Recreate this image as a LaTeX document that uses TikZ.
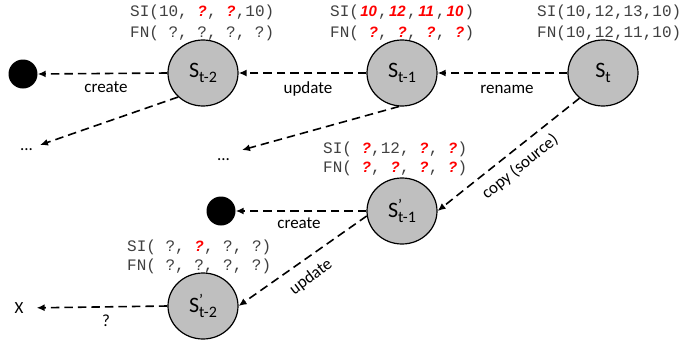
\documentclass[tikz,border=0pt]{standalone}
\usepackage{fontspec}
\setmainfont{Carlito}
\newfontfamily\monof{Liberation Mono}
\newfontfamily\redfam{Liberation Sans}
\usetikzlibrary{arrows.meta,shapes.geometric}
\definecolor{nodegray}{RGB}{191,191,191}
\definecolor{txtgray}{RGB}{64,64,64}
\newcommand\redstyle{\redfam\bfseries\itshape\fontsize{15}{15}\selectfont\color{red}}
\newcommand\redq[1]{\makebox[9.6pt]{\redstyle #1}}
\newcommand\redn[1]{\makebox[19.2pt]{\redstyle #1}}
\newcommand\subs[1]{\raisebox{-5pt}{\fontsize{16}{16}\selectfont #1}}
\newcommand\primesub[1]{\rlap{\raisebox{7pt}{\fontsize{16}{16}\selectfont ’}}\subs{#1}}
\begin{document}
\begin{tikzpicture}[x=1pt,y=-1pt,
  state/.style={ellipse, draw, line width=1.2pt, fill=nodegray, minimum width=70pt, minimum height=66pt, inner sep=0pt, font=\fontsize{22}{22}\selectfont},
  dotnode/.style={circle, fill=black, minimum size=29pt, inner sep=0pt},
  mono/.style={anchor=west, inner sep=0pt, font=\monof\fontsize{16}{16}\selectfont, text=txtgray},
  lbl/.style={inner sep=0pt, font=\fontsize{17}{17}\selectfont},
  conn/.style={dash pattern=on 8.5pt off 5pt, line width=1.6pt, -{Latex[length=8pt,width=7pt]}}]
\useasboundingbox (0,0) rectangle (681,341);

% states
\node[state] (St2) at (203,73) {S\subs{t-2}};
\node[state] (St1) at (402,73) {S\subs{t-1}};
\node[state] (St)  at (603,73) {S\subs{t}};
\node[state] (Sp1) at (402,211) {S\primesub{t-1}};
\node[state] (Sp2) at (203,306) {S\primesub{t-2}};

% end points
\node[dotnode] (dot1) at (23,74) {};
\node[dotnode] (dot2) at (221,211) {};
\node[lbl, anchor=base] (dots1) at (26.5,150) {...};
\node[lbl, anchor=base] (dots2) at (223.5,160) {...};
\node[lbl] (X) at (19,308) {X};
\coordinate (e1) at (40,145);
\coordinate (e2) at (242,150);

% SI / FN texts
\node[mono] (si1) at (130,12.5) {SI(10, \redq{?}, \redq{?},10)};
\node[mono] (fn1) at (130,33) {FN( ?, ?, ?, ?)};
\node[mono] (si2) at (330,12.5) {SI(\redn{10},\redn{12},\redn{11},\redn{10})};
\node[mono] (fn2) at (330,33) {FN( \redq{?}, \redq{?}, \redq{?}, \redq{?})};
\node[mono] (si3) at (537,12.5) {SI(10,12,13,10)};
\node[mono] (fn3) at (537,33) {FN(10,12,11,10)};
\node[mono] (si4) at (323,149) {SI( \redq{?},12, \redq{?}, \redq{?})};
\node[mono] (fn4) at (323,168) {FN( \redq{?}, \redq{?}, \redq{?}, \redq{?})};
\node[mono] (si5) at (127,247) {SI( ?, \redq{?}, ?, ?)};
\node[mono] (fn5) at (127,266) {FN( ?, ?, ?, ?)};

% connectors
\draw[conn] (St2.west) -- (dot1.east);
\draw[conn] (St1.west) -- (St2.east);
\draw[conn] (St.west) -- (St1.east);
\draw[conn] (St2.224) -- (e1);
\draw[conn] (St1.265) -- (e2);
\draw[conn] (St.227) -- (Sp1.east);
\draw[conn] (Sp1.west) -- (dot2.east);
\draw[conn] (Sp1.188) -- (Sp2.east);
\draw[conn, shorten >=13pt] (Sp2.west) -- (X.east);

% labels
\node[lbl] (l1) at (106,87) {create};
\node[lbl] (l2) at (308,89) {update};
\node[lbl] (l3) at (507,89) {rename};
\node[lbl] (l4) at (299,223) {create};
\node[lbl] (l5) at (106,321) {?};
\node[lbl, rotate=37] (l6) at (311,277) {update};
\node[lbl, rotate=39] (l7) at (520,167) {copy (source)};
\end{tikzpicture}
\end{document}
